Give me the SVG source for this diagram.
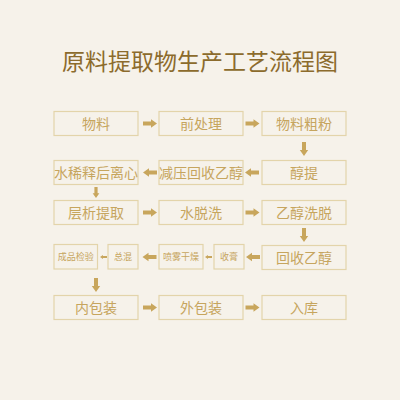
<svg xmlns="http://www.w3.org/2000/svg" xmlns:xlink="http://www.w3.org/1999/xlink" width="400" height="400" viewBox="0 0 400 400">
<style>
.box{fill:none;stroke:#e3d4aa;stroke-width:1.2}
.t{font-family:"Noto Sans CJK SC","Noto Sans",sans-serif;font-size:14px;fill:#c6a55e;text-anchor:middle}
.s{font-family:"Noto Sans CJK SC","Noto Sans",sans-serif;font-size:9px;fill:#c6a55e;text-anchor:middle}
.title{font-family:"Noto Sans CJK SC","Noto Sans",sans-serif;font-size:23px;fill:#8c6b2c;text-anchor:middle}
.arr{fill:#c8a65c}
</style>
<defs>
<path id="a" d="M-7,-2 H1 V-4.2 L7,0 L1,4.2 V2 H-7 Z"/>
</defs>
<rect width="400" height="400" fill="#f6f2ea"/>
<text class="title" x="200" y="70">原料提取物生产工艺流程图</text>

<g id="n1"><rect class="box" x="54" y="111.5" width="84" height="24"/><text class="t" x="96" y="128.5">物料</text></g>
<g id="n2"><rect class="box" x="159" y="111.5" width="84" height="24"/><text class="t" x="201" y="128.5">前处理</text></g>
<g id="n3"><rect class="box" x="262" y="111.5" width="84" height="24"/><text class="t" x="304" y="128.5">物料粗粉</text></g>

<g id="n4"><rect class="box" x="262" y="160.5" width="84" height="24"/><text class="t" x="304" y="177.5">醇提</text></g>
<g id="n5"><rect class="box" x="159" y="160.5" width="84" height="24"/><text class="t" x="201" y="177.5">减压回收乙醇</text></g>
<g id="n6"><rect class="box" x="54" y="160.5" width="84" height="24"/><text class="t" x="96" y="177.5">水稀释后离心</text></g>

<g id="n7"><rect class="box" x="54" y="200.5" width="84" height="24"/><text class="t" x="96" y="217.5">层析提取</text></g>
<g id="n8"><rect class="box" x="159" y="200.5" width="84" height="24"/><text class="t" x="201" y="217.5">水脱洗</text></g>
<g id="n9"><rect class="box" x="262" y="200.5" width="84" height="24"/><text class="t" x="304" y="217.5">乙醇洗脱</text></g>

<g id="n10"><rect class="box" x="262" y="245.5" width="84" height="24"/><text class="t" x="304" y="262.5">回收乙醇</text></g>
<g id="n11"><rect class="box" x="214" y="244.5" width="30" height="24.5"/><text class="s" x="229" y="260">收膏</text></g>
<g id="n12"><rect class="box" x="159" y="244.5" width="44" height="24.5"/><text class="s" x="181" y="260">喷雾干燥</text></g>
<g id="n13"><rect class="box" x="108" y="244.5" width="30" height="24.5"/><text class="s" x="123" y="260">总混</text></g>
<g id="n14"><rect class="box" x="54" y="244.5" width="43.5" height="24.5"/><text class="s" x="75.7" y="260">成品检验</text></g>

<g id="n15"><rect class="box" x="54" y="295.5" width="84" height="24"/><text class="t" x="96" y="312.5">内包装</text></g>
<g id="n16"><rect class="box" x="159" y="295.5" width="84" height="24"/><text class="t" x="201" y="312.5">外包装</text></g>
<g id="n17"><rect class="box" x="262" y="295.5" width="84" height="24"/><text class="t" x="304" y="312.5">入库</text></g>

<g id="connectors" class="arr">
<use xlink:href="#a" transform="translate(150,123.5)"/>
<use xlink:href="#a" transform="translate(252.5,123.5)"/>
<use xlink:href="#a" transform="translate(304,149) rotate(90)"/>
<use xlink:href="#a" transform="translate(252,172.5) rotate(180)"/>
<use xlink:href="#a" transform="translate(150,172.5) rotate(180)"/>
<use xlink:href="#a" transform="translate(96,192.5) rotate(90) scale(0.8)"/>
<use xlink:href="#a" transform="translate(150,212.5)"/>
<use xlink:href="#a" transform="translate(252.5,212.5)"/>
<use xlink:href="#a" transform="translate(304,235) rotate(90)"/>
<use xlink:href="#a" transform="translate(253,257) rotate(180)"/>
<use xlink:href="#a" transform="translate(208.5,257) rotate(180) scale(0.5)"/>
<use xlink:href="#a" transform="translate(149.5,257) rotate(180)"/>
<use xlink:href="#a" transform="translate(103.5,257) rotate(180) scale(0.5)"/>
<use xlink:href="#a" transform="translate(96,285) rotate(90)"/>
<use xlink:href="#a" transform="translate(150,307.5)"/>
<use xlink:href="#a" transform="translate(252.5,307.5)"/>
</g>
</svg>
